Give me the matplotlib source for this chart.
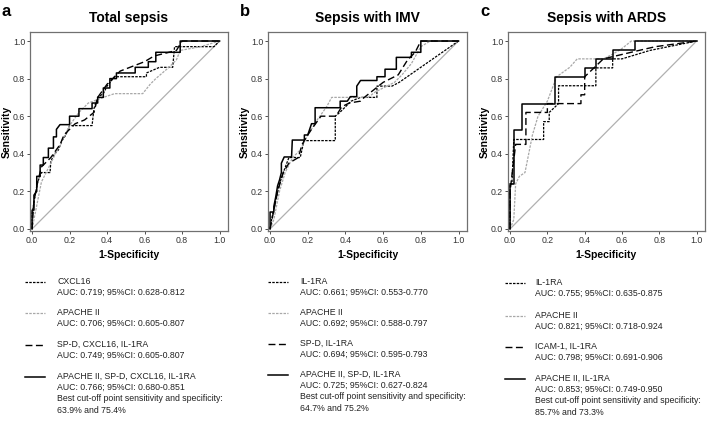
import matplotlib
matplotlib.use("Agg")
import matplotlib.pyplot as plt
from matplotlib.lines import Line2D

plt.rcParams["font.family"] = ["Liberation Sans", "DejaVu Sans"]

# ---- panel a: total sepsis ----
a_cxcl16_x = [0, 0.0, 0.01, 0.02, 0.03, 0.05, 0.096, 0.1, 0.12, 0.14, 0.16, 0.18, 0.2, 0.32, 0.33, 0.35, 0.38, 0.4, 0.44, 0.61, 0.61, 0.68, 0.75, 0.76, 0.97, 1.0]
a_cxcl16_y = [0, 0.08, 0.14, 0.2, 0.25, 0.3, 0.3, 0.36, 0.4, 0.42, 0.47, 0.5, 0.55, 0.55, 0.64, 0.7, 0.72, 0.76, 0.81, 0.81, 0.83, 0.86, 0.86, 0.97, 0.97, 1.0]
a_apache_x = [0, 0.02, 0.05, 0.1, 0.15, 0.2, 0.25, 0.3, 0.38, 0.44, 0.59, 0.63, 0.66, 0.73, 0.77, 0.79, 0.9, 1.0]
a_apache_y = [0, 0.1, 0.25, 0.35, 0.45, 0.55, 0.62, 0.67, 0.7, 0.72, 0.72, 0.77, 0.8, 0.86, 0.9, 0.95, 0.97, 1.0]
a_combo_x = [0, 0.01, 0.03, 0.05, 0.1, 0.15, 0.17, 0.2, 0.23, 0.28, 0.33, 0.35, 0.4, 0.43, 0.47, 0.6, 0.65, 0.77, 0.8, 1.0]
a_combo_y = [0, 0.15, 0.25, 0.33, 0.38, 0.45, 0.5, 0.53, 0.56, 0.58, 0.62, 0.7, 0.77, 0.8, 0.84, 0.89, 0.92, 0.95, 1.0, 1.0]
a_full_x = [0, 0, 0.01, 0.01, 0.025, 0.025, 0.043, 0.043, 0.06, 0.06, 0.087, 0.087, 0.114, 0.114, 0.13, 0.13, 0.149, 0.2, 0.2, 0.25, 0.25, 0.32, 0.32, 0.35, 0.35, 0.38, 0.38, 0.415, 0.415, 0.45, 0.45, 0.55, 0.55, 0.62, 0.62, 0.66, 0.66, 0.79, 0.79, 1.0]
a_full_y = [0, 0.1, 0.1, 0.18, 0.2, 0.28, 0.28, 0.34, 0.34, 0.38, 0.38, 0.43, 0.43, 0.49, 0.49, 0.53, 0.555, 0.555, 0.6, 0.6, 0.64, 0.64, 0.67, 0.67, 0.7, 0.7, 0.75, 0.75, 0.8, 0.8, 0.83, 0.83, 0.86, 0.86, 0.89, 0.89, 0.94, 0.94, 1.0, 1.0]

# ---- panel b: sepsis with IMV ----
b_il1ra_x = [0, 0.01, 0.03, 0.05, 0.07, 0.1, 0.16, 0.18, 0.346, 0.346, 0.37, 0.4, 0.43, 0.48, 0.497, 0.567, 0.567, 0.647, 0.685, 1.0]
b_il1ra_y = [0, 0.06, 0.15, 0.24, 0.3, 0.38, 0.38, 0.47, 0.47, 0.6, 0.62, 0.65, 0.68, 0.7, 0.7, 0.7, 0.76, 0.76, 0.78, 1.0]
b_apache_x = [0, 0.02, 0.05, 0.08, 0.12, 0.16, 0.2, 0.25, 0.3, 0.327, 0.52, 0.56, 0.6, 0.66, 0.7, 0.75, 0.8, 0.85, 1.0]
b_apache_y = [0, 0.05, 0.2, 0.3, 0.38, 0.42, 0.5, 0.58, 0.65, 0.7, 0.7, 0.73, 0.75, 0.78, 0.82, 0.88, 0.97, 1.0, 1.0]
b_combo_x = [0, 0.01, 0.04, 0.07, 0.1, 0.15, 0.17, 0.2, 0.22, 0.27, 0.33, 0.35, 0.38, 0.42, 0.48, 0.5, 0.55, 0.6, 0.68, 0.73, 0.77, 0.8, 1.0]
b_combo_y = [0, 0.05, 0.2, 0.3, 0.35, 0.38, 0.45, 0.5, 0.53, 0.6, 0.6, 0.6, 0.65, 0.67, 0.68, 0.7, 0.74, 0.78, 0.82, 0.9, 0.94, 1.0, 1.0]
b_full_x = [0, 0, 0.02, 0.02, 0.03, 0.04, 0.05, 0.06, 0.06, 0.075, 0.114, 0.118, 0.182, 0.182, 0.2, 0.21, 0.22, 0.239, 0.239, 0.372, 0.372, 0.41, 0.426, 0.46, 0.46, 0.48, 0.497, 0.567, 0.567, 0.61, 0.61, 0.67, 0.67, 0.75, 0.75, 0.8, 0.8, 1.0]
b_full_y = [0, 0.09, 0.09, 0.12, 0.17, 0.23, 0.26, 0.3, 0.35, 0.383, 0.383, 0.473, 0.473, 0.5, 0.5, 0.53, 0.56, 0.56, 0.645, 0.645, 0.68, 0.68, 0.704, 0.704, 0.76, 0.79, 0.79, 0.79, 0.81, 0.81, 0.85, 0.85, 0.913, 0.913, 0.94, 0.94, 1.0, 1.0]

# ---- panel c: sepsis with ARDS ----
c_il1ra_x = [0, 0, 0.01, 0.02, 0.18, 0.18, 0.21, 0.21, 0.26, 0.26, 0.46, 0.46, 0.55, 0.55, 0.6, 0.75, 1.0]
c_il1ra_y = [0, 0.24, 0.24, 0.476, 0.476, 0.571, 0.571, 0.62, 0.667, 0.762, 0.762, 0.857, 0.857, 0.905, 0.905, 0.95, 1.0]
c_apache_x = [0, 0.02, 0.03, 0.05, 0.08, 0.1, 0.12, 0.15, 0.2, 0.25, 0.32, 0.36, 0.5, 0.55, 0.6, 0.65, 1.0]
c_apache_y = [0, 0.05, 0.24, 0.28, 0.3, 0.4, 0.5, 0.6, 0.68, 0.81, 0.86, 0.905, 0.905, 0.93, 0.96, 1.0, 1.0]
c_combo_x = [0, 0, 0.03, 0.085, 0.085, 0.2, 0.2, 0.38, 0.38, 0.4, 0.4, 0.45, 0.5, 0.7, 0.78, 1.0]
c_combo_y = [0, 0.2, 0.45, 0.45, 0.62, 0.62, 0.667, 0.667, 0.714, 0.714, 0.81, 0.857, 0.905, 0.952, 0.97, 1.0]
c_full_x = [0, 0, 0.02, 0.02, 0.065, 0.065, 0.24, 0.24, 0.4, 0.4, 0.46, 0.46, 0.55, 0.55, 0.67, 0.67, 1.0]
c_full_y = [0, 0.238, 0.238, 0.524, 0.524, 0.667, 0.667, 0.81, 0.81, 0.857, 0.857, 0.905, 0.905, 0.952, 0.952, 1.0, 1.0]

panel_letters = ["a", "b", "c"]
panel_titles = ["Total sepsis", "Sepsis with IMV", "Sepsis with ARDS"]
tick_values = [0.0, 0.2, 0.4, 0.6, 0.8, 1.0]
tick_labels = ["0.0", "0.2", "0.4", "0.6", "0.8", "1.0"]

a_legend = [
    "CXCL16\nAUC: 0.719; 95%CI: 0.628-0.812",
    "APACHE II\nAUC: 0.706; 95%CI: 0.605-0.807",
    "SP-D, CXCL16, IL-1RA\nAUC: 0.749; 95%CI: 0.605-0.807",
    "APACHE II, SP-D, CXCL16, IL-1RA\nAUC: 0.766; 95%CI: 0.680-0.851\n"
    "Best cut-off point sensitivity and specificity:\n63.9% and 75.4%",
]
b_legend = [
    "IL-1RA\nAUC: 0.661; 95%CI: 0.553-0.770",
    "APACHE II\nAUC: 0.692; 95%CI: 0.588-0.797",
    "SP-D, IL-1RA\nAUC: 0.694; 95%CI: 0.595-0.793",
    "APACHE II, SP-D, IL-1RA\nAUC: 0.725; 95%CI: 0.627-0.824\n"
    "Best cut-off point sensitivity and specificity:\n64.7% and 75.2%",
]
c_legend = [
    "IL-1RA\nAUC: 0.755; 95%CI: 0.635-0.875",
    "APACHE II\nAUC: 0.821; 95%CI: 0.718-0.924",
    "ICAM-1, IL-1RA\nAUC: 0.798; 95%CI: 0.691-0.906",
    "APACHE II, IL-1RA\nAUC: 0.853; 95%CI: 0.749-0.950\n"
    "Best cut-off point sensitivity and specificity:\n85.7% and 73.3%",
]

curves = [
    [(a_cxcl16_x, a_cxcl16_y), (a_apache_x, a_apache_y), (a_combo_x, a_combo_y), (a_full_x, a_full_y)],
    [(b_il1ra_x, b_il1ra_y), (b_apache_x, b_apache_y), (b_combo_x, b_combo_y), (b_full_x, b_full_y)],
    [(c_il1ra_x, c_il1ra_y), (c_apache_x, c_apache_y), (c_combo_x, c_combo_y), (c_full_x, c_full_y)],
]
legends = [a_legend, b_legend, c_legend]

styles = [
    dict(color="black", lw=0.9, ls=(0, (2, 1))),
    dict(color="#a8a8a8", lw=0.9, ls=(0, (2, 1))),
    dict(color="black", lw=1.0, ls=(0, (5, 2.5))),
    dict(color="black", lw=1.1, ls="-"),
]

W, H = 709, 423
fig = plt.figure(figsize=(W / 100, H / 100), dpi=100)

box_left = [30, 268, 508]
box_width = [198, 199, 197]
sample_x = [25, 268, 505]
text_x = [57, 300, 535]
group_y = [[282, 313, 345, 377], [282, 313, 344, 375], [283, 316, 347, 379]]

for i in range(3):
    ax = fig.add_axes([box_left[i] / W, (H - 231) / H, box_width[i] / W, 199 / H])
    ax.plot([0, 1], [0, 1], color="#b0b0b0", lw=0.9)
    for (xs, ys), st in zip(curves[i], styles):
        ax.plot(xs, ys, **st)
    ax.set_xlim(-0.011, 1.045)
    ax.set_ylim(-0.011, 1.048)
    ax.set_xticks(tick_values)
    ax.set_xticklabels(tick_labels)
    ax.set_yticks(tick_values)
    ax.set_yticklabels(tick_labels)
    ax.tick_params(labelsize=6.3, colors="#333333", length=2, width=0.6, pad=1.5)
    for s in ax.spines.values():
        s.set_color("#707070")
        s.set_linewidth(0.9)
    ax.set_xlabel("1-Specificity", fontsize=7.5, fontweight="bold", labelpad=4)
    ax.set_ylabel("Sensitivity", fontsize=7.5, fontweight="bold", labelpad=1)
    ax.set_title(panel_titles[i], fontsize=10, fontweight="bold", pad=7)
    fig.text((box_left[i] - 28) / W, 1 - 12 / H, panel_letters[i], fontsize=12,
             fontweight="bold", va="center", ha="left")

    for j, label in enumerate(legends[i]):
        y = 1 - group_y[i][j] / H
        fig.add_artist(Line2D([sample_x[i] / W, (sample_x[i] + 20) / W], [y, y],
                              transform=fig.transFigure, **styles[j]))
        fig.text(text_x[i] / W, y + 5 / H, label, fontsize=6.3, va="top", ha="left",
                 color="#222222", linespacing=1.32)

fig.savefig("out.png", dpi=100)
